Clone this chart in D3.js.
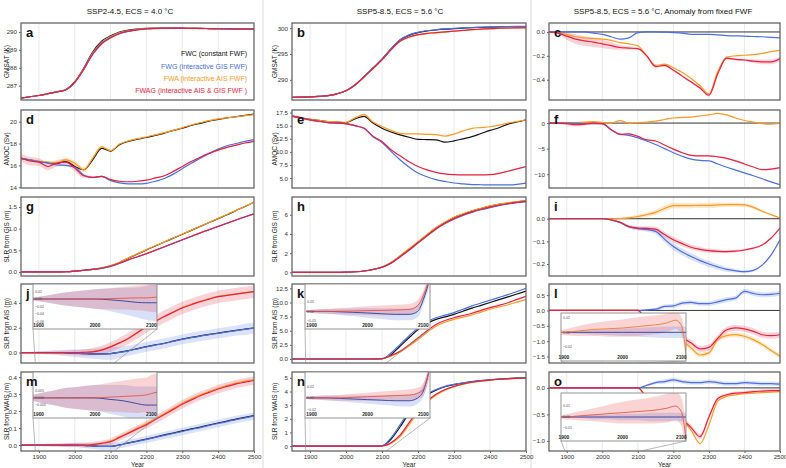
<!DOCTYPE html>
<html><head><meta charset="utf-8">
<script src="https://cdn.jsdelivr.net/npm/d3@7"></script>
<style>body{margin:0;background:#fff}svg{font-family:"Liberation Sans",Arial,Helvetica,sans-serif}</style>
</head><body><svg id="c" width="786" height="468"></svg>
<script>
// ---------------- DATA ----------------
const years = [1850,1875,1900,1925,1950,1975,2000,2025,2050,2075,2100,2125,2150,2175,2200,2225,2250,2275,2300,2325,2350,2375,2400,2425,2450,2475,2500];
const xTicks = [1900,2000,2100,2200,2300,2400,2500];
const colTitles = ["SSP2-4.5, ECS = 4.0 °C","SSP5-8.5, ECS = 5.6 °C","SSP5-8.5, ECS = 5.6 °C, Anomaly from fixed FWF"];
const legendNames = ["FWC (constant FWF)","FWG (interactive GIS FWF)","FWA (interactive AIS FWF)","FWAG (interactive AIS & GIS FWF )"];
const legendKeys = ["FWC","FWG","FWA","FWAG"];

// a: GMSAT SSP2-4.5
const a_FWC  = [286.30,286.38,286.45,286.55,286.65,286.78,287.22,287.98,288.88,289.48,289.78,289.99,290.10,290.16,290.20,290.22,290.22,290.22,290.21,290.20,290.20,290.19,290.18,290.17,290.16,290.16,290.15];
const a_FWA  = [286.30,286.38,286.45,286.55,286.65,286.77,287.20,287.94,288.82,289.43,289.74,289.96,290.08,290.15,290.19,290.21,290.22,290.22,290.21,290.20,290.20,290.19,290.18,290.17,290.17,290.16,290.16];
const a_FWG  = [286.30,286.38,286.45,286.55,286.65,286.77,287.19,287.92,288.78,289.38,289.70,289.93,290.05,290.13,290.18,290.20,290.21,290.21,290.21,290.20,290.19,290.18,290.17,290.16,290.15,290.15,290.14];
const a_FWAG = [286.30,286.38,286.45,286.55,286.65,286.76,287.18,287.90,288.74,289.33,289.66,289.90,290.03,290.12,290.17,290.19,290.20,290.21,290.21,290.20,290.20,290.19,290.18,290.18,290.17,290.17,290.17];
// b: GMSAT SSP5-8.5
const b_FWC  = [286.60,286.65,286.70,286.80,286.95,287.30,287.90,289.00,290.60,292.30,294.00,296.00,297.70,298.60,299.15,299.45,299.65,299.80,299.90,300.00,300.10,300.15,300.20,300.25,300.28,300.30,300.32];
const b_FWG  = [286.60,286.65,286.70,286.80,286.95,287.30,287.90,289.00,290.60,292.30,294.00,296.00,297.75,298.70,299.20,299.50,299.70,299.85,299.95,300.05,300.12,300.18,300.22,300.27,300.30,300.33,300.36];
const b_FWA  = [286.60,286.65,286.70,286.80,286.95,287.30,287.90,289.00,290.55,292.20,293.85,295.80,297.45,298.25,298.70,298.95,299.10,299.25,299.40,299.55,299.70,299.80,299.90,299.97,300.02,300.06,300.10];
const b_FWAG = [286.60,286.65,286.70,286.80,286.95,287.30,287.90,289.00,290.55,292.20,293.85,295.80,297.45,298.30,298.75,299.00,299.15,299.28,299.42,299.57,299.72,299.82,299.92,299.98,300.03,300.07,300.10];
// c: GMSAT anomaly
const c_FWG  = [0,0,0,0,0,-0.01,-0.02,-0.04,-0.06,-0.05,-0.005,0,0,-0.002,-0.005,-0.01,-0.02,-0.02,-0.02,-0.025,-0.03,-0.033,-0.035,-0.038,-0.04,-0.045,-0.05];
const c_FWA  = [0,-0.005,-0.02,-0.04,-0.05,-0.055,-0.06,-0.07,-0.09,-0.1,-0.115,-0.2,-0.28,-0.27,-0.3,-0.34,-0.39,-0.45,-0.52,-0.33,-0.21,-0.2,-0.195,-0.19,-0.18,-0.165,-0.155];
const c_FWAG = [0,-0.01,-0.035,-0.06,-0.075,-0.085,-0.1,-0.115,-0.13,-0.135,-0.14,-0.2,-0.29,-0.28,-0.32,-0.37,-0.42,-0.47,-0.53,-0.35,-0.22,-0.23,-0.235,-0.245,-0.25,-0.25,-0.225];
const c_FWAG_sp = [0,0.01,0.03,0.04,0.04,0.04,0.035,0.03,0.02,0.015,0.01,0.01,0.01,0.01,0.01,0.01,0.01,0.01,0.01,0.01,0.01,0.01,0.01,0.015,0.02,0.02,0.02];
// d: AMOC SSP2-4.5
const d_FWC  = [16.65,16.5,16.35,16.25,16.2,16.35,15.9,15.6,16.5,17.55,17.3,17.9,18.2,18.4,18.55,18.75,18.95,19.2,19.4,19.65,19.85,20.05,20.2,20.35,20.45,20.58,20.7];
const d_FWA  = [16.65,16.5,16.4,16.3,16.25,16.5,16.2,15.6,16.65,17.7,17.35,17.95,18.25,18.45,18.6,18.8,19.0,19.2,19.45,19.7,19.9,20.1,20.25,20.35,20.45,20.55,20.65];
const d_FWG  = [16.6,16.5,16.35,16.2,16.05,16.0,15.85,15.1,14.9,15.0,14.6,14.4,14.3,14.3,14.35,14.55,14.8,15.2,15.7,16.2,16.65,17.1,17.5,17.8,18.0,18.2,18.35];
const d_FWAG = [16.7,16.4,16.3,15.9,16.2,16.3,15.75,15.05,14.9,15.0,14.7,14.55,14.5,14.55,14.65,14.85,15.05,15.45,15.9,16.35,16.75,17.1,17.4,17.65,17.85,18.05,18.2];
const d_FWAG_sp = [0.35,0.4,0.35,0.35,0.3,0.3,0.3,0.2,0.1,0.08,0.05,0.05,0.05,0.05,0.05,0.05,0.05,0.05,0.05,0.05,0.05,0.05,0.05,0.05,0.05,0.05,0.05];
const d_FWA_sp  = [0,0,0,0.05,0.1,0.2,0.25,0.25,0.2,0.15,0.1,0.05,0.05,0.05,0.05,0.05,0.05,0.05,0.05,0.05,0.05,0.05,0.05,0.05,0.05,0.05,0.05];
// e: AMOC SSP5-8.5
const e_FWC  = [16.85,16.5,16.2,16.0,15.8,15.7,15.6,16.3,16.8,15.5,14.5,13.8,13.25,12.8,12.4,12.35,12.3,11.85,12.1,12.5,12.9,13.5,14.1,14.6,15.3,15.7,16.1];
const e_FWA  = [16.85,16.5,16.2,16.0,15.8,15.75,15.65,16.5,17.1,15.7,14.85,14.1,13.55,13.45,13.45,13.35,13.3,13.0,13.4,14.0,14.5,14.65,14.8,15.1,15.5,15.8,16.1];
const e_FWG  = [16.85,16.5,16.1,15.85,15.6,15.5,15.35,15.0,14.5,12.9,11.8,10.1,8.5,7.1,5.95,5.25,4.7,4.35,4.05,3.9,3.75,3.72,3.7,3.7,3.7,3.8,4.05];
const e_FWAG = [16.85,16.5,16.1,15.85,15.6,15.5,15.4,15.0,14.5,13.0,12.0,10.4,9.25,8.1,7.2,6.55,6.1,5.8,5.65,5.6,5.6,5.6,5.65,5.9,6.3,6.75,7.2];
const e_FWAG_sp = [0.3,0.3,0.25,0.25,0.2,0.2,0.2,0.15,0.1,0.08,0.06,0.05,0.05,0.05,0.05,0.05,0.05,0.05,0.05,0.05,0.05,0.05,0.05,0.05,0.05,0.05,0.05];
// f: AMOC anomaly
const f_FWG  = [0,0,0,0,-0.1,-0.1,-0.1,-1.3,-2.2,-2.4,-2.9,-3.5,-4.2,-5.0,-5.8,-6.5,-7.05,-7.3,-7.4,-8.0,-8.65,-9.2,-9.75,-10.3,-10.9,-11.5,-12.05];
const f_FWA  = [0,0,0,0.1,0.2,0.3,0.1,0.0,0.5,0.0,0.1,0.2,0.4,0.7,1.0,1.1,1.15,1.4,1.6,1.9,1.6,1.0,0.5,0.2,-0.1,-0.2,0.0];
const f_FWAG = [0,0,-0.1,-0.3,-0.2,0.0,-0.1,-1.3,-2.2,-2.1,-2.6,-3.3,-3.5,-4.3,-5.1,-5.8,-6.3,-6.4,-6.4,-6.6,-6.9,-7.4,-8.0,-8.6,-9.1,-9.0,-8.7];
const f_FWAG_sp = [0.1,0.2,0.3,0.35,0.3,0.3,0.25,0.2,0.15,0.1,0.1,0.1,0.1,0.1,0.1,0.1,0.1,0.1,0.1,0.1,0.1,0.1,0.1,0.1,0.1,0.15,0.15];
// g: SLR GIS SSP2-4.5
const g_FWC  = [0,0,0,0,0,0.005,0.02,0.04,0.06,0.09,0.14,0.22,0.32,0.415,0.51,0.6,0.69,0.78,0.87,0.96,1.05,1.14,1.23,1.32,1.42,1.51,1.61];
const g_FWA  = [0,0,0,0,0,0.005,0.02,0.04,0.062,0.093,0.145,0.225,0.325,0.42,0.515,0.605,0.695,0.785,0.875,0.965,1.055,1.145,1.235,1.325,1.42,1.515,1.615];
const g_FWG  = [0,0,0,0,0,0.005,0.02,0.04,0.06,0.085,0.13,0.2,0.28,0.35,0.42,0.5,0.58,0.66,0.74,0.82,0.9,0.975,1.05,1.125,1.2,1.27,1.34];
const g_FWAG = [0,0,0,0,0,0.005,0.02,0.04,0.06,0.086,0.132,0.202,0.282,0.352,0.423,0.503,0.583,0.663,0.743,0.823,0.903,0.978,1.053,1.128,1.203,1.273,1.343];
// h: SLR GIS SSP5-8.5
const h_FWC  = [0,0,0,0,0,0,0.02,0.06,0.14,0.3,0.55,1.0,1.68,2.4,3.15,3.9,4.62,5.2,5.7,6.05,6.38,6.65,6.9,7.08,7.22,7.35,7.45];
const h_FWA  = [0,0,0,0,0,0,0.02,0.06,0.14,0.3,0.56,1.02,1.72,2.45,3.2,3.95,4.68,5.25,5.74,6.1,6.42,6.68,6.92,7.1,7.24,7.36,7.46];
const h_FWG  = [0,0,0,0,0,0,0.02,0.06,0.14,0.3,0.53,0.95,1.6,2.3,3.05,3.78,4.5,5.08,5.55,5.92,6.25,6.52,6.75,6.95,7.12,7.26,7.38];
const h_FWAG = [0,0,0,0,0,0,0.02,0.06,0.14,0.3,0.53,0.96,1.62,2.33,3.08,3.82,4.54,5.12,5.6,5.97,6.3,6.57,6.8,6.99,7.15,7.29,7.4];
// i: SLR GIS anomaly
const i_FWG  = [0,0,0,0,0,0,0,-0.005,-0.016,-0.035,-0.044,-0.047,-0.056,-0.09,-0.123,-0.147,-0.167,-0.185,-0.2,-0.213,-0.224,-0.23,-0.234,-0.228,-0.205,-0.16,-0.093];
const i_FWA  = [0,0,0,0,0,0,0,0,0.001,0.004,0.01,0.018,0.028,0.045,0.058,0.058,0.058,0.059,0.059,0.061,0.062,0.062,0.061,0.05,0.033,0.018,0.003];
const i_FWAG = [0,0,0,0,0,0,0,-0.005,-0.016,-0.035,-0.041,-0.043,-0.046,-0.07,-0.093,-0.11,-0.126,-0.135,-0.141,-0.144,-0.145,-0.143,-0.138,-0.13,-0.116,-0.085,-0.041];
const i_FWG_sp  = [0,0,0,0,0,0,0,0.002,0.004,0.006,0.008,0.01,0.012,0.014,0.015,0.015,0.015,0.014,0.013,0.012,0.01,0.008,0.006,0.005,0.004,0.003,0.002];
const i_FWA_sp  = [0,0,0,0,0,0,0,0.002,0.004,0.006,0.008,0.01,0.012,0.013,0.013,0.013,0.012,0.012,0.012,0.011,0.01,0.009,0.008,0.007,0.006,0.004,0.002];
const i_FWAG_sp = [0,0,0,0,0,0,0,0.002,0.004,0.006,0.008,0.01,0.011,0.012,0.012,0.012,0.011,0.01,0.009,0.008,0.007,0.006,0.005,0.004,0.003,0.002,0.002];
// j: SLR AIS SSP2-4.5
const j_FWC  = [0,0,0,0,0,-0.002,-0.005,-0.008,-0.01,-0.01,-0.008,0.003,0.016,0.032,0.048,0.062,0.075,0.092,0.108,0.122,0.135,0.146,0.157,0.168,0.179,0.189,0.199];
const j_FWA  = [0,0,0,0,0,0,0,0.002,0.007,0.022,0.048,0.08,0.116,0.162,0.212,0.253,0.293,0.328,0.363,0.388,0.413,0.433,0.453,0.463,0.473,0.483,0.493];
const j_FWG  = [0,0,0,0,0,-0.002,-0.005,-0.008,-0.01,-0.01,-0.008,0.002,0.014,0.03,0.046,0.06,0.073,0.09,0.106,0.12,0.133,0.144,0.155,0.166,0.177,0.187,0.196];
const j_FWAG = [0,0,0,0,0,0,0,0.002,0.006,0.02,0.046,0.078,0.114,0.16,0.21,0.25,0.29,0.325,0.36,0.385,0.41,0.43,0.45,0.46,0.47,0.48,0.49];
const j_FWAG_sp = [0,0.005,0.008,0.01,0.013,0.016,0.02,0.025,0.03,0.035,0.04,0.042,0.045,0.047,0.05,0.05,0.05,0.05,0.05,0.05,0.05,0.05,0.05,0.05,0.05,0.05,0.05];
const j_FWG_sp  = [0,0.005,0.01,0.015,0.02,0.025,0.03,0.035,0.04,0.045,0.05,0.045,0.04,0.04,0.04,0.04,0.04,0.04,0.04,0.04,0.04,0.04,0.04,0.04,0.04,0.045,0.045];
// k: SLR AIS SSP5-8.5
const k_FWC  = [0,0,0,0,0,0,0,0,0,0,0.05,0.77,2.25,3.75,5.2,6.3,7.0,7.45,7.9,8.45,9.0,9.5,10.0,10.5,11.0,11.5,12.0];
const k_FWA  = [0,0,0,0,0,0,0,0,0,0,0.05,0.55,1.25,2.3,3.4,4.7,5.8,6.5,7.0,7.4,7.8,8.3,8.8,9.2,9.6,10.05,10.5];
const k_FWG  = [0,0,0,0,0,0,0,0,0,0,0.05,1.07,2.55,4.1,5.5,6.6,7.3,7.75,8.2,8.8,9.4,9.9,10.4,10.9,11.4,11.95,12.5];
const k_FWAG = [0,0,0,0,0,0,0,0,0,0,0.05,0.6,1.36,2.5,3.7,5.0,6.1,6.8,7.3,7.7,8.1,8.6,9.1,9.5,9.95,10.55,11.1];
// l: SLR AIS anomaly
const l_FWG  = [0,0,0,0,0,0,0,0,0,0,0,0.02,0.04,0.13,0.15,0.24,0.26,0.22,0.22,0.28,0.35,0.4,0.62,0.55,0.51,0.52,0.56];
const l_FWA  = [0,0,0,0,0,0,0,0,0,0,0,-0.4,-0.65,-0.8,-0.9,-1.0,-1.22,-1.45,-1.38,-0.95,-0.82,-0.79,-0.84,-0.95,-1.11,-1.3,-1.49];
const l_FWAG = [0,0,0,0,0,0,0,0,0,0,0,-0.35,-0.6,-0.75,-0.85,-0.9,-1.06,-1.25,-1.2,-0.9,-0.63,-0.57,-0.6,-0.68,-0.79,-0.82,-0.79];
const l_FWG_sp  = [0,0,0,0,0,0,0,0,0,0,0,0.03,0.05,0.06,0.07,0.07,0.07,0.07,0.07,0.08,0.08,0.08,0.08,0.08,0.08,0.08,0.08];
const l_FWA_sp  = [0,0,0,0,0,0,0,0,0,0,0,0.04,0.06,0.07,0.08,0.08,0.08,0.08,0.08,0.08,0.08,0.08,0.08,0.08,0.08,0.08,0.08];
const l_FWAG_sp = [0,0,0,0,0,0,0,0,0,0,0,0.05,0.08,0.1,0.1,0.1,0.1,0.1,0.1,0.1,0.1,0.1,0.1,0.1,0.1,0.1,0.1];
// m: SLR WAIS SSP2-4.5
const m_FWC  = [0,0,0,0,0,0,0,-0.002,-0.005,-0.008,-0.008,0.001,0.013,0.024,0.035,0.047,0.06,0.071,0.083,0.095,0.106,0.118,0.13,0.141,0.153,0.163,0.174];
const m_FWA  = [0,0,0,0,0,0,0,0,0.004,0.012,0.023,0.048,0.074,0.1,0.126,0.156,0.186,0.216,0.246,0.272,0.296,0.316,0.336,0.351,0.366,0.376,0.386];
const m_FWG  = [0,0,0,0,0,0,0,-0.002,-0.005,-0.008,-0.008,0,0.012,0.022,0.033,0.045,0.057,0.068,0.08,0.092,0.103,0.115,0.127,0.138,0.15,0.16,0.17];
const m_FWAG = [0,0,0,0,0,0,0,0,0.003,0.01,0.02,0.045,0.07,0.095,0.12,0.15,0.18,0.21,0.24,0.265,0.29,0.31,0.33,0.345,0.36,0.37,0.38];
const m_FWAG_sp = [0,0.003,0.005,0.007,0.009,0.011,0.012,0.013,0.015,0.017,0.019,0.02,0.021,0.022,0.023,0.024,0.025,0.025,0.025,0.025,0.025,0.025,0.025,0.025,0.025,0.025,0.025];
const m_FWG_sp  = [0,0.003,0.005,0.007,0.009,0.011,0.013,0.015,0.017,0.019,0.02,0.02,0.02,0.02,0.02,0.021,0.022,0.022,0.022,0.022,0.022,0.022,0.022,0.022,0.022,0.022,0.022];
// n: SLR WAIS SSP5-8.5
const n_FWC  = [0,0,0,0,0,0,0,0,0,0,0.02,0.5,1.4,2.4,3.2,3.75,4.1,4.35,4.5,4.62,4.72,4.8,4.86,4.91,4.95,4.98,5.0];
const n_FWA  = [0,0,0,0,0,0,0,0,0,0,0.01,0.2,0.7,1.55,2.45,3.2,3.72,4.1,4.35,4.52,4.66,4.76,4.83,4.89,4.93,4.96,4.99];
const n_FWG  = [0,0,0,0,0,0,0,0,0,0,0.02,0.6,1.55,2.55,3.3,3.82,4.15,4.38,4.52,4.63,4.73,4.8,4.86,4.91,4.95,4.98,5.0];
const n_FWAG = [0,0,0,0,0,0,0,0,0,0,0.01,0.25,0.8,1.7,2.6,3.3,3.8,4.15,4.38,4.55,4.68,4.77,4.84,4.9,4.94,4.97,5.0];
// o: SLR WAIS anomaly
const o_FWG  = [0,0,0,0,0,0,0,0,0,0,0,0.05,0.1,0.12,0.15,0.12,0.1,0.1,0.12,0.1,0.08,0.08,0.1,0.09,0.08,0.08,0.07];
const o_FWA  = [0,0,0,0,0,0,0,0,0,0,0,-0.2,-0.45,-0.5,-0.56,-0.63,-0.8,-1.05,-0.7,-0.25,-0.16,-0.13,-0.11,-0.1,-0.09,-0.08,-0.07];
const o_FWAG = [0,0,0,0,0,0,0,0,0,0,0,-0.2,-0.45,-0.5,-0.55,-0.6,-0.75,-0.92,-0.55,-0.2,-0.13,-0.1,-0.09,-0.07,-0.06,-0.05,-0.05];
const o_FWG_sp  = [0,0,0,0,0,0,0,0,0,0,0,0.02,0.03,0.04,0.04,0.04,0.04,0.04,0.04,0.04,0.04,0.04,0.04,0.04,0.04,0.04,0.04];
const o_FWAG_sp = [0,0,0,0,0,0,0,0,0,0,0,0.03,0.04,0.05,0.05,0.05,0.05,0.05,0.05,0.04,0.03,0.03,0.03,0.03,0.03,0.03,0.03];

// insets (zoom 1890-2110)
const insetYears = [1890,1900,1925,1950,1975,2000,2025,2050,2075,2090,2100,2110];
const jIn_red  = [0,0,0,0,0,0,0.001,0.002,0.003,0.003,0.004,0.005];
const jIn_blue = [0,0,0,0,0,0,-0.002,-0.005,-0.009,-0.01,-0.01,-0.01];
const jIn_redSp  = [0.004,0.006,0.012,0.018,0.022,0.026,0.028,0.03,0.033,0.035,0.038,0.04];
const jIn_blueSp = [0.004,0.006,0.012,0.018,0.022,0.026,0.03,0.035,0.04,0.045,0.048,0.05];
const kIn_red  = [0,0,0,0.001,0.002,0.004,0.005,0.007,0.01,0.03,0.08,0.16];
const kIn_blue = [0,0,0,-0.002,-0.005,-0.008,-0.012,-0.015,-0.015,0,0.06,0.15];
const kIn_redSp  = [0.005,0.008,0.012,0.016,0.019,0.022,0.025,0.027,0.028,0.028,0.028,0.028];
const kIn_blueSp = [0.005,0.008,0.012,0.016,0.02,0.024,0.027,0.03,0.03,0.03,0.03,0.03];
const lIn_red  = [0,0,0.002,0.004,0.005,0.006,0.008,0.01,0.013,0.017,0.01,-0.045];
const lIn_blue = [0,0,0,0,0,0,0,0,0,0,0,0];
const lIn_redSp  = [0.002,0.004,0.007,0.009,0.011,0.012,0.013,0.013,0.013,0.012,0.012,0.012];
const lIn_blueSp = [0,0.001,0.002,0.003,0.004,0.005,0.006,0.007,0.008,0.008,0.008,0.008];
const mIn_red  = [0,0,0,0,0,0,0.0005,0.001,0.0015,0.002,0.003,0.004];
const mIn_blue = [0,0,0,0,0,0,-0.001,-0.002,-0.004,-0.005,-0.005,-0.005];
const mIn_redSp  = [0.002,0.003,0.005,0.007,0.008,0.009,0.01,0.011,0.012,0.012,0.013,0.013];
const mIn_blueSp = [0.002,0.003,0.005,0.007,0.008,0.009,0.01,0.011,0.012,0.013,0.013,0.013];
const nIn_red  = [0,0,0,0,0.001,0.002,0.003,0.004,0.005,0.008,0.015,0.045];
const nIn_blue = [0,0,0,-0.001,-0.002,-0.003,-0.004,-0.005,-0.005,0,0.012,0.045];
const nIn_redSp  = [0.002,0.003,0.004,0.005,0.006,0.007,0.008,0.009,0.01,0.01,0.011,0.012];
const nIn_blueSp = [0.002,0.003,0.004,0.005,0.006,0.007,0.008,0.009,0.01,0.01,0.011,0.012];
const oIn_red  = [0,0,0.001,0.002,0.003,0.004,0.005,0.006,0.008,0.01,0.005,-0.03];
const oIn_blue = [0,0,0,0,0,0,0,0,0,0,0,0];
const oIn_redSp  = [0.001,0.002,0.004,0.006,0.008,0.01,0.011,0.012,0.013,0.013,0.013,0.013];
const oIn_blueSp = [0,0.001,0.001,0.002,0.002,0.003,0.003,0.004,0.004,0.004,0.004,0.004];

// ---------------- STYLE / LAYOUT ----------------
const COL  = {FWC:"#111111", FWG:"#4a6fe3", FWA:"#ff9a1f", FWAG:"#e8213f"};
const BAND = {FWC:"rgba(60,60,60,0.16)", FWG:"rgba(74,111,227,0.2)", FWA:"rgba(255,154,31,0.22)", FWAG:"rgba(232,33,63,0.2)"};
const order = ["FWC","FWA","FWG","FWAG"];
const colX = [[21,254],[292,526],[549,780]];
const rowY = [[23,100],[110,188],[197,276],[284,363],[372,451]];
const titleX = [130,400,663];

const panels = [
 {L:"a",c:0,r:0,dom:[286.2,290.5],ticks:[287,288,289,290],fmt:"d",yl:"GMSAT (K)",s:{FWC:a_FWC,FWA:a_FWA,FWG:a_FWG,FWAG:a_FWAG},b:{}},
 {L:"b",c:1,r:0,dom:[286.1,301],ticks:[290,295,300],fmt:"d",yl:"GMSAT (K)",s:{FWC:b_FWC,FWA:b_FWA,FWG:b_FWG,FWAG:b_FWAG},b:{}},
 {L:"c",c:2,r:0,dom:[-0.57,0.075],ticks:[0,-0.2,-0.4],fmt:".1f",zero:true,s:{FWA:c_FWA,FWG:c_FWG,FWAG:c_FWAG},b:{FWAG:c_FWAG_sp}},
 {L:"d",c:0,r:1,dom:[13.93,21.07],ticks:[14,16,18,20],fmt:"d",yl:"AMOC (Sv)",s:{FWC:d_FWC,FWA:d_FWA,FWG:d_FWG,FWAG:d_FWAG},b:{FWA:d_FWA_sp,FWAG:d_FWAG_sp}},
 {L:"e",c:1,r:1,dom:[3.1,18.0],ticks:[5,7.5,10,12.5,15,17.5],fmt:".1f",yl:"AMOC (Sv)",s:{FWC:e_FWC,FWA:e_FWA,FWG:e_FWG,FWAG:e_FWAG},b:{FWAG:e_FWAG_sp}},
 {L:"f",c:2,r:1,dom:[-12.7,2.56],ticks:[0,-5,-10],fmt:"d",zero:true,s:{FWA:f_FWA,FWG:f_FWG,FWAG:f_FWAG},b:{FWAG:f_FWAG_sp}},
 {L:"g",c:0,r:2,dom:[-0.093,1.73],ticks:[0,0.5,1,1.5],fmt:".1f",yl:"SLR from GIS (m)",s:{FWC:g_FWC,FWA:g_FWA,FWG:g_FWG,FWAG:g_FWAG},b:{}},
 {L:"h",c:1,r:2,dom:[-0.38,7.85],ticks:[0,2,4,6],fmt:"d",yl:"SLR from GIS (m)",s:{FWC:h_FWC,FWA:h_FWA,FWG:h_FWG,FWAG:h_FWAG},b:{}},
 {L:"i",c:2,r:2,dom:[-0.253,0.096],ticks:[0,-0.1,-0.2],fmt:".1f",zero:true,s:{FWA:i_FWA,FWG:i_FWG,FWAG:i_FWAG},b:{FWA:i_FWA_sp,FWG:i_FWG_sp,FWAG:i_FWAG_sp}},
 {L:"j",c:0,r:3,dom:[-0.084,0.552],ticks:[0,0.2,0.4],fmt:".1f",yl:"SLR from AIS (m)",s:{FWC:j_FWC,FWA:j_FWA,FWG:j_FWG,FWAG:j_FWAG},b:{FWG:j_FWG_sp,FWAG:j_FWAG_sp},
   inset:{box:[33,284,157,329],xd:[1890,2110],yd:[-0.08,0.04],yt:[0.02,0,-0.02,-0.04,-0.06],fmt:".2f",red:jIn_red,blue:jIn_blue,rs:jIn_redSp,bs:jIn_blueSp}},
 {L:"k",c:1,r:3,dom:[-0.71,13.27],ticks:[0,2.5,5,7.5,10,12.5],fmt:".1f",yl:"SLR from AIS (m)",s:{FWC:k_FWC,FWA:k_FWA,FWG:k_FWG,FWAG:k_FWAG},b:{},
   inset:{box:[305,284,430,329],xd:[1888,2112],yd:[-0.09,0.14],yt:[0.05,0,-0.05],fmt:".2f",red:kIn_red,blue:kIn_blue,rs:kIn_redSp,bs:kIn_blueSp}},
 {L:"l",c:2,r:3,dom:[-1.71,0.86],ticks:[0.5,0,-0.5,-1,-1.5],fmt:".1f",zero:true,s:{FWA:l_FWA,FWG:l_FWG,FWAG:l_FWAG},b:{FWA:l_FWA_sp,FWG:l_FWG_sp,FWAG:l_FWAG_sp},
   inset:{box:[561,313,686,361],xd:[1895,2108],yd:[-0.04,0.027],yt:[0.02,0,-0.02],fmt:".2f",red:lIn_red,blue:lIn_blue,rs:lIn_redSp,bs:lIn_blueSp,redKey:"FWA"}},
 {L:"m",c:0,r:4,dom:[-0.035,0.43],ticks:[0,0.1,0.2,0.3,0.4],fmt:".1f",yl:"SLR from WAIS (m)",s:{FWC:m_FWC,FWA:m_FWA,FWG:m_FWG,FWAG:m_FWAG},b:{FWG:m_FWG_sp,FWAG:m_FWAG_sp},
   inset:{box:[33,372,157,418],xd:[1890,2110],yd:[-0.014,0.018],yt:[0.005,0,-0.005],fmt:".3f",red:mIn_red,blue:mIn_blue,rs:mIn_redSp,bs:mIn_blueSp}},
 {L:"n",c:1,r:4,dom:[-0.36,5.43],ticks:[0,1,2,3,4,5],fmt:"d",yl:"SLR from WAIS (m)",s:{FWC:n_FWC,FWA:n_FWA,FWG:n_FWG,FWAG:n_FWAG},b:{},
   inset:{box:[305,372,430,418],xd:[1888,2112],yd:[-0.035,0.045],yt:[0.02,0,-0.02],fmt:".2f",red:nIn_red,blue:nIn_blue,rs:nIn_redSp,bs:nIn_blueSp}},
 {L:"o",c:2,r:4,dom:[-1.19,0.3],ticks:[0,-0.5,-1],fmt:".1f",zero:true,s:{FWA:o_FWA,FWG:o_FWG,FWAG:o_FWAG},b:{FWG:o_FWG_sp,FWAG:o_FWAG_sp},
   inset:{box:[561,393,686,441],xd:[1895,2108],yd:[-0.022,0.022],yt:[0.01,0,-0.01],fmt:".2f",red:oIn_red,blue:oIn_blue,rs:oIn_redSp,bs:oIn_blueSp}}
];

// ---------------- DRAW ----------------
const svg = d3.select("#c");
const defs = svg.append("defs");
svg.append("rect").attr("width",786).attr("height",468).attr("fill","#fff");
[263,531].forEach(xv=>svg.append("line").attr("x1",xv).attr("x2",xv).attr("y1",0).attr("y2",468).attr("stroke","#d9d9d9").attr("stroke-width",1));
colTitles.forEach((t,i)=>svg.append("text").attr("x",titleX[i]).attr("y",14).attr("text-anchor","middle")
  .attr("font-size",8).attr("fill","#111").text(t));

function drawInset(p, x, y1) {
  const ins = p.inset, [bx0,by0,bx1,by1] = ins.box;
  const g = svg.append("g");
  g.append("line").attr("x1",bx0).attr("y1",by1).attr("x2",x(ins.xd[0])).attr("y2",y1).attr("stroke","#888").attr("stroke-width",0.6);
  g.append("line").attr("x1",bx1).attr("y1",by1).attr("x2",x(ins.xd[1])).attr("y2",y1).attr("stroke","#888").attr("stroke-width",0.6);
  g.append("rect").attr("x",bx0).attr("y",by0).attr("width",bx1-bx0).attr("height",by1-by0).attr("fill","#fff");
  const xi = d3.scaleLinear().domain(ins.xd).range([bx0,bx1]);
  const yi = d3.scaleLinear().domain(ins.yd).range([by1,by0]);
  const cid = "iclip"+p.L;
  defs.append("clipPath").attr("id",cid).append("rect").attr("x",bx0).attr("y",by0).attr("width",bx1-bx0).attr("height",by1-by0);
  const pg = g.append("g").attr("clip-path",`url(#${cid})`);
  const area = (v,sp)=>d3.area().x((d,i)=>xi(insetYears[i])).y0((d,i)=>yi(v[i]-sp[i])).y1((d,i)=>yi(v[i]+sp[i])).curve(d3.curveMonotoneX)(v);
  const line = v=>d3.line().x((d,i)=>xi(insetYears[i])).y(d=>yi(d)).curve(d3.curveMonotoneX)(v);
  pg.append("path").attr("d",area(ins.blue,ins.bs)).attr("fill","rgba(74,111,227,0.22)");
  pg.append("path").attr("d",area(ins.red,ins.rs)).attr("fill","rgba(232,60,63,0.22)");
  pg.append("path").attr("d",line(ins.blue)).attr("fill","none").attr("stroke","#2a3fa0").attr("stroke-width",0.9);
  pg.append("path").attr("d",line(ins.red)).attr("fill","none").attr("stroke",ins.redKey?"#f07a2a":"#e8553f").attr("stroke-width",0.9);
  g.append("rect").attr("x",bx0).attr("y",by0).attr("width",bx1-bx0).attr("height",by1-by0).attr("fill","none").attr("stroke","#888").attr("stroke-width",0.9);
  const fy = d3.format(ins.fmt);
  ins.yt.forEach(t=>g.append("text").attr("x",bx0+2).attr("y",yi(t)+1.2).attr("font-size",3.6).attr("fill","#555").text(fy(t)));
  [1900,2000,2100].forEach(t=>g.append("text").attr("x",xi(t)).attr("y",by1-2).attr("text-anchor","middle").attr("font-size",4.8).attr("font-weight","bold").attr("fill","#222").text(t));
}

panels.forEach(p=>{
  const [x0,x1] = colX[p.c], [y0,y1] = rowY[p.r];
  const x = d3.scaleLinear().domain([1850,2500]).range([x0,x1]);
  const y = d3.scaleLinear().domain(p.dom).range([y1,y0]);
  const g = svg.append("g");
  g.selectAll(null).data([1900,2000,2100,2200,2300,2400]).join("line")
    .attr("x1",d=>x(d)).attr("x2",d=>x(d)).attr("y1",y0).attr("y2",y1).attr("stroke","#e3e3e3").attr("stroke-width",0.8);
  const cid = "clip"+p.L;
  defs.append("clipPath").attr("id",cid).append("rect").attr("x",x0).attr("y",y0).attr("width",x1-x0).attr("height",y1-y0);
  const pg = g.append("g").attr("clip-path",`url(#${cid})`);
  if (p.zero) pg.append("line").attr("x1",x0).attr("x2",x1).attr("y1",y(0)).attr("y2",y(0)).attr("stroke","#333").attr("stroke-width",1);
  order.forEach(k=>{
    if (p.b[k] && p.s[k]) {
      const v = p.s[k], sp = p.b[k];
      const ar = d3.area().x((d,i)=>x(years[i])).y0((d,i)=>y(v[i]-sp[i])).y1((d,i)=>y(v[i]+sp[i])).curve(d3.curveMonotoneX);
      pg.append("path").attr("d",ar(v)).attr("fill",BAND[k]);
    }
  });
  order.forEach(k=>{
    if (p.s[k]) {
      const ln = d3.line().x((d,i)=>x(years[i])).y(d=>y(d)).curve(d3.curveMonotoneX);
      pg.append("path").attr("d",ln(p.s[k])).attr("fill","none").attr("stroke",COL[k]).attr("stroke-width",1.2);
    }
  });
  g.append("rect").attr("x",x0).attr("y",y0).attr("width",x1-x0).attr("height",y1-y0)
    .attr("fill","none").attr("stroke","#666").attr("stroke-width",1.3);
  const ax = g.append("g").attr("transform",`translate(${x0},0)`)
    .call(d3.axisLeft(y).tickValues(p.ticks).tickFormat(d3.format(p.fmt)).tickSize(2).tickPadding(2));
  ax.select(".domain").remove();
  ax.selectAll(".tick line").attr("stroke","#666");
  ax.selectAll("text").attr("font-size",6.2).attr("fill","#333").attr("font-family","Liberation Sans, Arial, sans-serif");
  if (p.yl) {
    const lx = p.c===0 ? 6 : 274;
    g.append("text").attr("transform",`translate(${lx},${(y0+y1)/2}) rotate(-90)`).attr("text-anchor","middle")
      .attr("dominant-baseline","central").attr("font-size",6.5).attr("fill","#222").text(p.yl);
  }
  if (p.r===4) {
    const xa = g.append("g").attr("transform",`translate(0,${y1})`)
      .call(d3.axisBottom(x).tickValues(xTicks).tickFormat(d3.format("d")).tickSize(2).tickPadding(2));
    xa.select(".domain").remove();
    xa.selectAll(".tick line").attr("stroke","#666");
    xa.selectAll("text").attr("font-size",6.2).attr("fill","#333").attr("font-family","Liberation Sans, Arial, sans-serif");
    g.append("text").attr("x",(x0+x1)/2).attr("y",467).attr("text-anchor","middle").attr("font-size",6.5).attr("fill","#222").text("Year");
  }
  if (p.inset) drawInset(p, x, y1);
  svg.append("text").attr("x",x0+5).attr("y",y0+14).attr("font-size",13).attr("font-weight","bold").attr("fill","#111").text(p.L);
  if (p.L==="a") {
    const ly = [56,69,81,93];
    legendKeys.forEach((k,i)=>svg.append("text").attr("x",247).attr("y",ly[i]).attr("text-anchor","end")
      .attr("font-size",7).attr("fill",COL[k]).text(legendNames[i]));
  }
});
</script></body></html>
